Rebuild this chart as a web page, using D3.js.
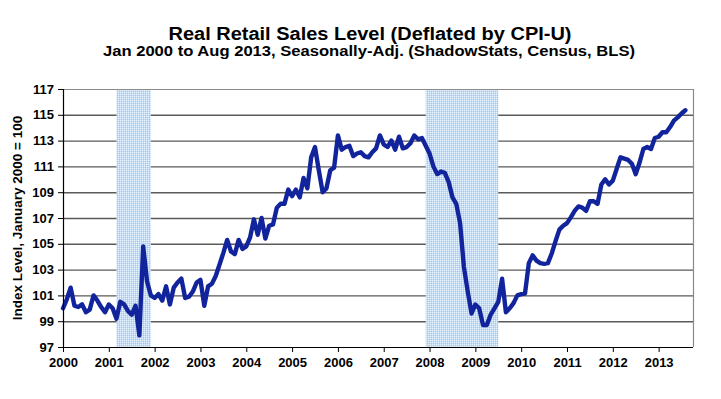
<!DOCTYPE html>
<html>
<head>
<meta charset="utf-8">
<script src="https://cdn.jsdelivr.net/npm/d3@7"></script>
<style>
	body { margin: 0; background: #fff; }
	svg { display: block; font-family: "Liberation Sans", Arial, sans-serif; }
	.axis text { font-size: 13px; font-weight: bold; fill: #000; }
</style>
</head>
<body>
<svg id="chart" width="721" height="399"></svg>
<script>
(function(){

	// monthly index, Jan 2000 .. Aug 2013 (Jan 2000 = 100)
	var retailIndex = [
		100.0, 100.7, 101.6, 100.2, 100.1, 100.3, 99.7, 99.9, 101.0, 100.6, 100.1, 99.7,
		100.3, 100.0, 99.2, 100.5, 100.3, 99.8, 99.5, 100.2, 97.9, 104.8, 102.1, 101.0,
		100.8, 101.1, 100.6, 101.7, 100.3, 101.6, 102.0, 102.3, 100.8, 100.9, 101.3, 102.0,
		102.2, 100.2, 101.7, 101.9, 102.5, 103.4, 104.3, 105.3, 104.4, 104.2, 105.3, 104.6,
		104.8, 105.5, 106.9, 105.7, 107.0, 105.4, 106.4, 106.5, 107.8, 108.1, 108.1, 109.2,
		108.7, 109.2, 108.6, 110.1, 109.3, 111.7, 112.5, 110.7, 109.0, 109.3, 110.7, 110.9,
		113.4, 112.3, 112.5, 112.6, 111.8, 112.0, 112.1, 111.8, 111.7, 112.1, 112.4, 113.4,
		112.7, 112.5, 113.0, 112.3, 113.3, 112.4, 112.5, 112.8, 113.4, 113.1, 113.2, 112.6,
		112.0, 111.0, 110.4, 110.6, 110.5, 109.8, 108.6, 108.1, 106.6, 103.2, 101.3, 99.6,
		100.3, 100.0, 98.7, 98.7, 99.5, 100.0, 100.5, 102.3, 99.7, 100.0, 100.4, 101.0,
		101.1, 101.15, 103.5, 104.1, 103.7, 103.5, 103.45, 103.5, 104.25, 105.2, 106.1, 106.4,
		106.6, 107.05, 107.55, 107.9, 107.8, 107.55, 108.3, 108.3, 108.1, 109.6, 110.0, 109.6,
		109.9, 110.8, 111.7, 111.6, 111.5, 111.2, 110.4, 111.3, 112.35, 112.5, 112.35, 113.2,
		113.3, 113.65, 113.65, 114.05, 114.55, 114.8, 115.1, 115.35
	];
	var startYear = 2000;
	var yearTicks = [2000, 2001, 2002, 2003, 2004, 2005, 2006, 2007, 2008, 2009, 2010, 2011, 2012, 2013];
	var valueTicks = [97, 99, 101, 103, 105, 107, 109, 111, 113, 115, 117];
	// recessions as [first month index, month index after last]
	var recessions = [[14, 23], [95, 114]];

	var titleText = "Real Retail Sales Level (Deflated by CPI-U)";
	var subtitleText = "Jan 2000 to Aug 2013, Seasonally-Adj. (ShadowStats, Census, BLS)";
	var yLabel = "Index Level, January 2000 = 100";

	var margin = {top: 89, right: 28, bottom: 52, left: 63};
	var svg = d3.select("#chart");
	var width = +svg.attr("width") - margin.left - margin.right;
	var height = +svg.attr("height") - margin.top - margin.bottom;

	var x = d3.scaleLinear().domain([0, 165]).range([0, width]);
	var y = d3.scaleLinear().domain([97, 117]).range([height, 0]);

	// dotted fill like the old spreadsheet pattern
	var pat = svg.append("defs").append("pattern")
		.attr("id", "dots")
		.attr("width", 2).attr("height", 2)
		.attr("patternUnits", "userSpaceOnUse");
	pat.append("rect").attr("width", 2).attr("height", 2).attr("fill", "#c4dcf4");
	pat.append("rect").attr("width", 1).attr("height", 1).attr("fill", "#92d6da");
	pat.append("rect").attr("x", 1).attr("y", 1).attr("width", 1).attr("height", 1).attr("fill", "#e6f2fc");

	var g = svg.append("g")
		.attr("transform", "translate(" + margin.left + "," + margin.top + ")");

	// grid
	g.append("g")
		.selectAll("line")
		.data(valueTicks.slice(1, -1))
		.enter().append("line")
			.attr("x1", 0)
			.attr("x2", width)
			.attr("y1", function(d){ return y(d) + 0.5; })
			.attr("y2", function(d){ return y(d) + 0.5; })
			.attr("stroke", "#5a5a5a")
			.attr("stroke-width", 1.4);

	// recession bars
	g.append("g")
		.selectAll("rect")
		.data(recessions)
		.enter().append("rect")
			.attr("x", function(d){ return x(d[0]); })
			.attr("y", 0)
			.attr("width", function(d){ return x(d[1]) - x(d[0]); })
			.attr("height", height)
			.attr("fill", "url(#dots)");

	// frame (top and right)
	g.append("path")
		.attr("d", "M0,0.5H" + (width + 0.5) + "V" + height)
		.attr("fill", "none")
		.attr("stroke", "#8a8a8a")
		.attr("stroke-width", 1.2);

	var line = d3.line()
		.x(function(d, i){ return x(i); })
		.y(function(d){ return y(d); });

	g.append("path")
		.datum(retailIndex)
		.attr("d", line)
		.attr("fill", "none")
		.attr("stroke", "#12249c")
		.attr("stroke-width", 4.4)
		.attr("stroke-linejoin", "round")
		.attr("stroke-linecap", "round");

	var yAxis = g.append("g")
		.attr("class", "axis")
		.call(d3.axisLeft(y).tickValues(valueTicks).tickSize(5).tickPadding(4).tickFormat(d3.format("d")));

	var xAxis = g.append("g")
		.attr("class", "axis")
		.attr("transform", "translate(0," + height + ")")
		.call(d3.axisBottom(x)
			.tickValues(yearTicks.map(function(yr){ return (yr - startYear) * 12; }))
			.tickSize(5).tickPadding(6)
			.tickFormat(function(d){ return startYear + d / 12; }));

	[yAxis, xAxis].forEach(function(ax){
		ax.select(".domain").attr("stroke", "#000").attr("stroke-width", 1.2);
		ax.selectAll(".tick line").attr("stroke", "#000");
	});
	xAxis.select(".domain").attr("d", "M0,0.5H" + width);

	svg.append("text")
		.attr("transform", "translate(21.5," + (margin.top + height / 2) + ") rotate(-90)")
		.attr("text-anchor", "middle")
		.style("font-size", "13.5px")
		.style("font-weight", "bold")
		.text(yLabel);

	svg.append("text")
		.attr("x", 370)
		.attr("y", 40)
		.attr("text-anchor", "middle")
		.attr("textLength", 403)
		.attr("lengthAdjust", "spacingAndGlyphs")
		.style("font-size", "18px")
		.style("font-weight", "bold")
		.text(titleText);

	svg.append("text")
		.attr("x", 369)
		.attr("y", 56)
		.attr("text-anchor", "middle")
		.attr("textLength", 532)
		.attr("lengthAdjust", "spacingAndGlyphs")
		.style("font-size", "14px")
		.style("font-weight", "bold")
		.text(subtitleText);

})();
</script>
</body>
</html>
